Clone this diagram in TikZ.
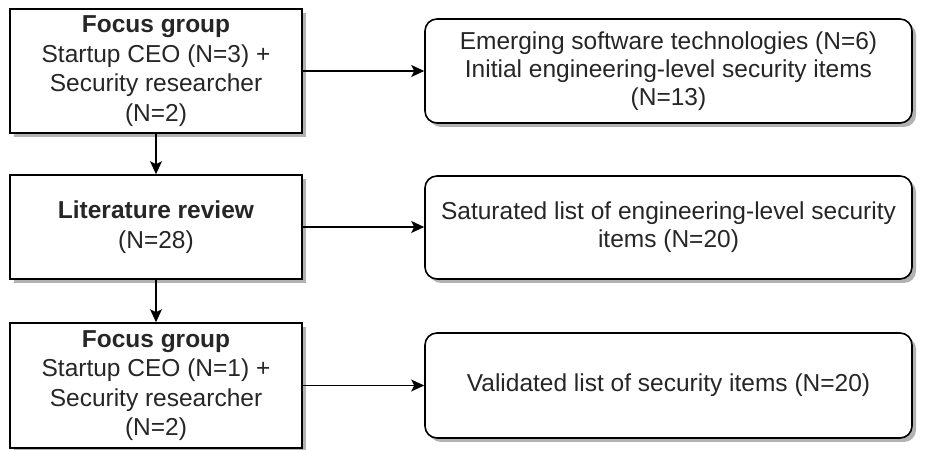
\documentclass[tikz,border=0pt]{standalone}
\usepackage{fontspec}
\setmainfont{Liberation Sans}
\usetikzlibrary{shadows,arrows.meta}
\begin{document}
\begin{tikzpicture}[x=1pt,y=1pt,
  box/.style={draw=black, line width=1.6pt, fill=white, align=center, inner sep=0pt,
    text=black!85, font=\fontsize{24.5}{28}\selectfont,
    drop shadow={shadow xshift=4pt, shadow yshift=-4pt, fill=black!30, opacity=1}},
  leftbox/.style={box, minimum width=292pt, font=\fontsize{24.5}{29.5}\selectfont},
  resbox/.style={box, rounded corners=12pt, minimum width=487pt},
  conn/.style={line width=1.4pt, -{Stealth[length=13pt,width=12pt,inset=3pt]}}
]
\useasboundingbox (0,0) rectangle (935,450);
\node[leftbox, minimum height=124pt] (fg1) at (156,379) {\textbf{Focus group}\\Startup CEO (N=3) +\\Security researcher\\(N=2)};
\node[leftbox, minimum height=104pt] (lit) at (156,223) {\textbf{Literature review}\\(N=28)};
\node[leftbox, minimum height=125pt] (fg2) at (156,64.5) {\textbf{Focus group}\\Startup CEO (N=1) +\\Security researcher\\(N=2)};
\node[resbox, minimum height=104pt] (r1) at (668.5,379) {Emerging software technologies (N=6)\\Initial engineering-level security items\\(N=13)};
\node[resbox, minimum height=103pt] (r2) at (668.5,222.5) {Saturated list of engineering-level security\\items (N=20)};
\node[resbox, minimum height=105pt] (r3) at (668.5,64.5) {Validated list of security items (N=20)};
\draw[conn] (fg1.east) -- (r1.west);
\draw[conn] (lit.east) -- (lit.east -| r2.west);
\draw[conn] (fg2.east) -- (r3.west);
\draw[conn] (fg1.south) -- (lit.north);
\draw[conn] (lit.south) -- (fg2.north);
\end{tikzpicture}
\end{document}
